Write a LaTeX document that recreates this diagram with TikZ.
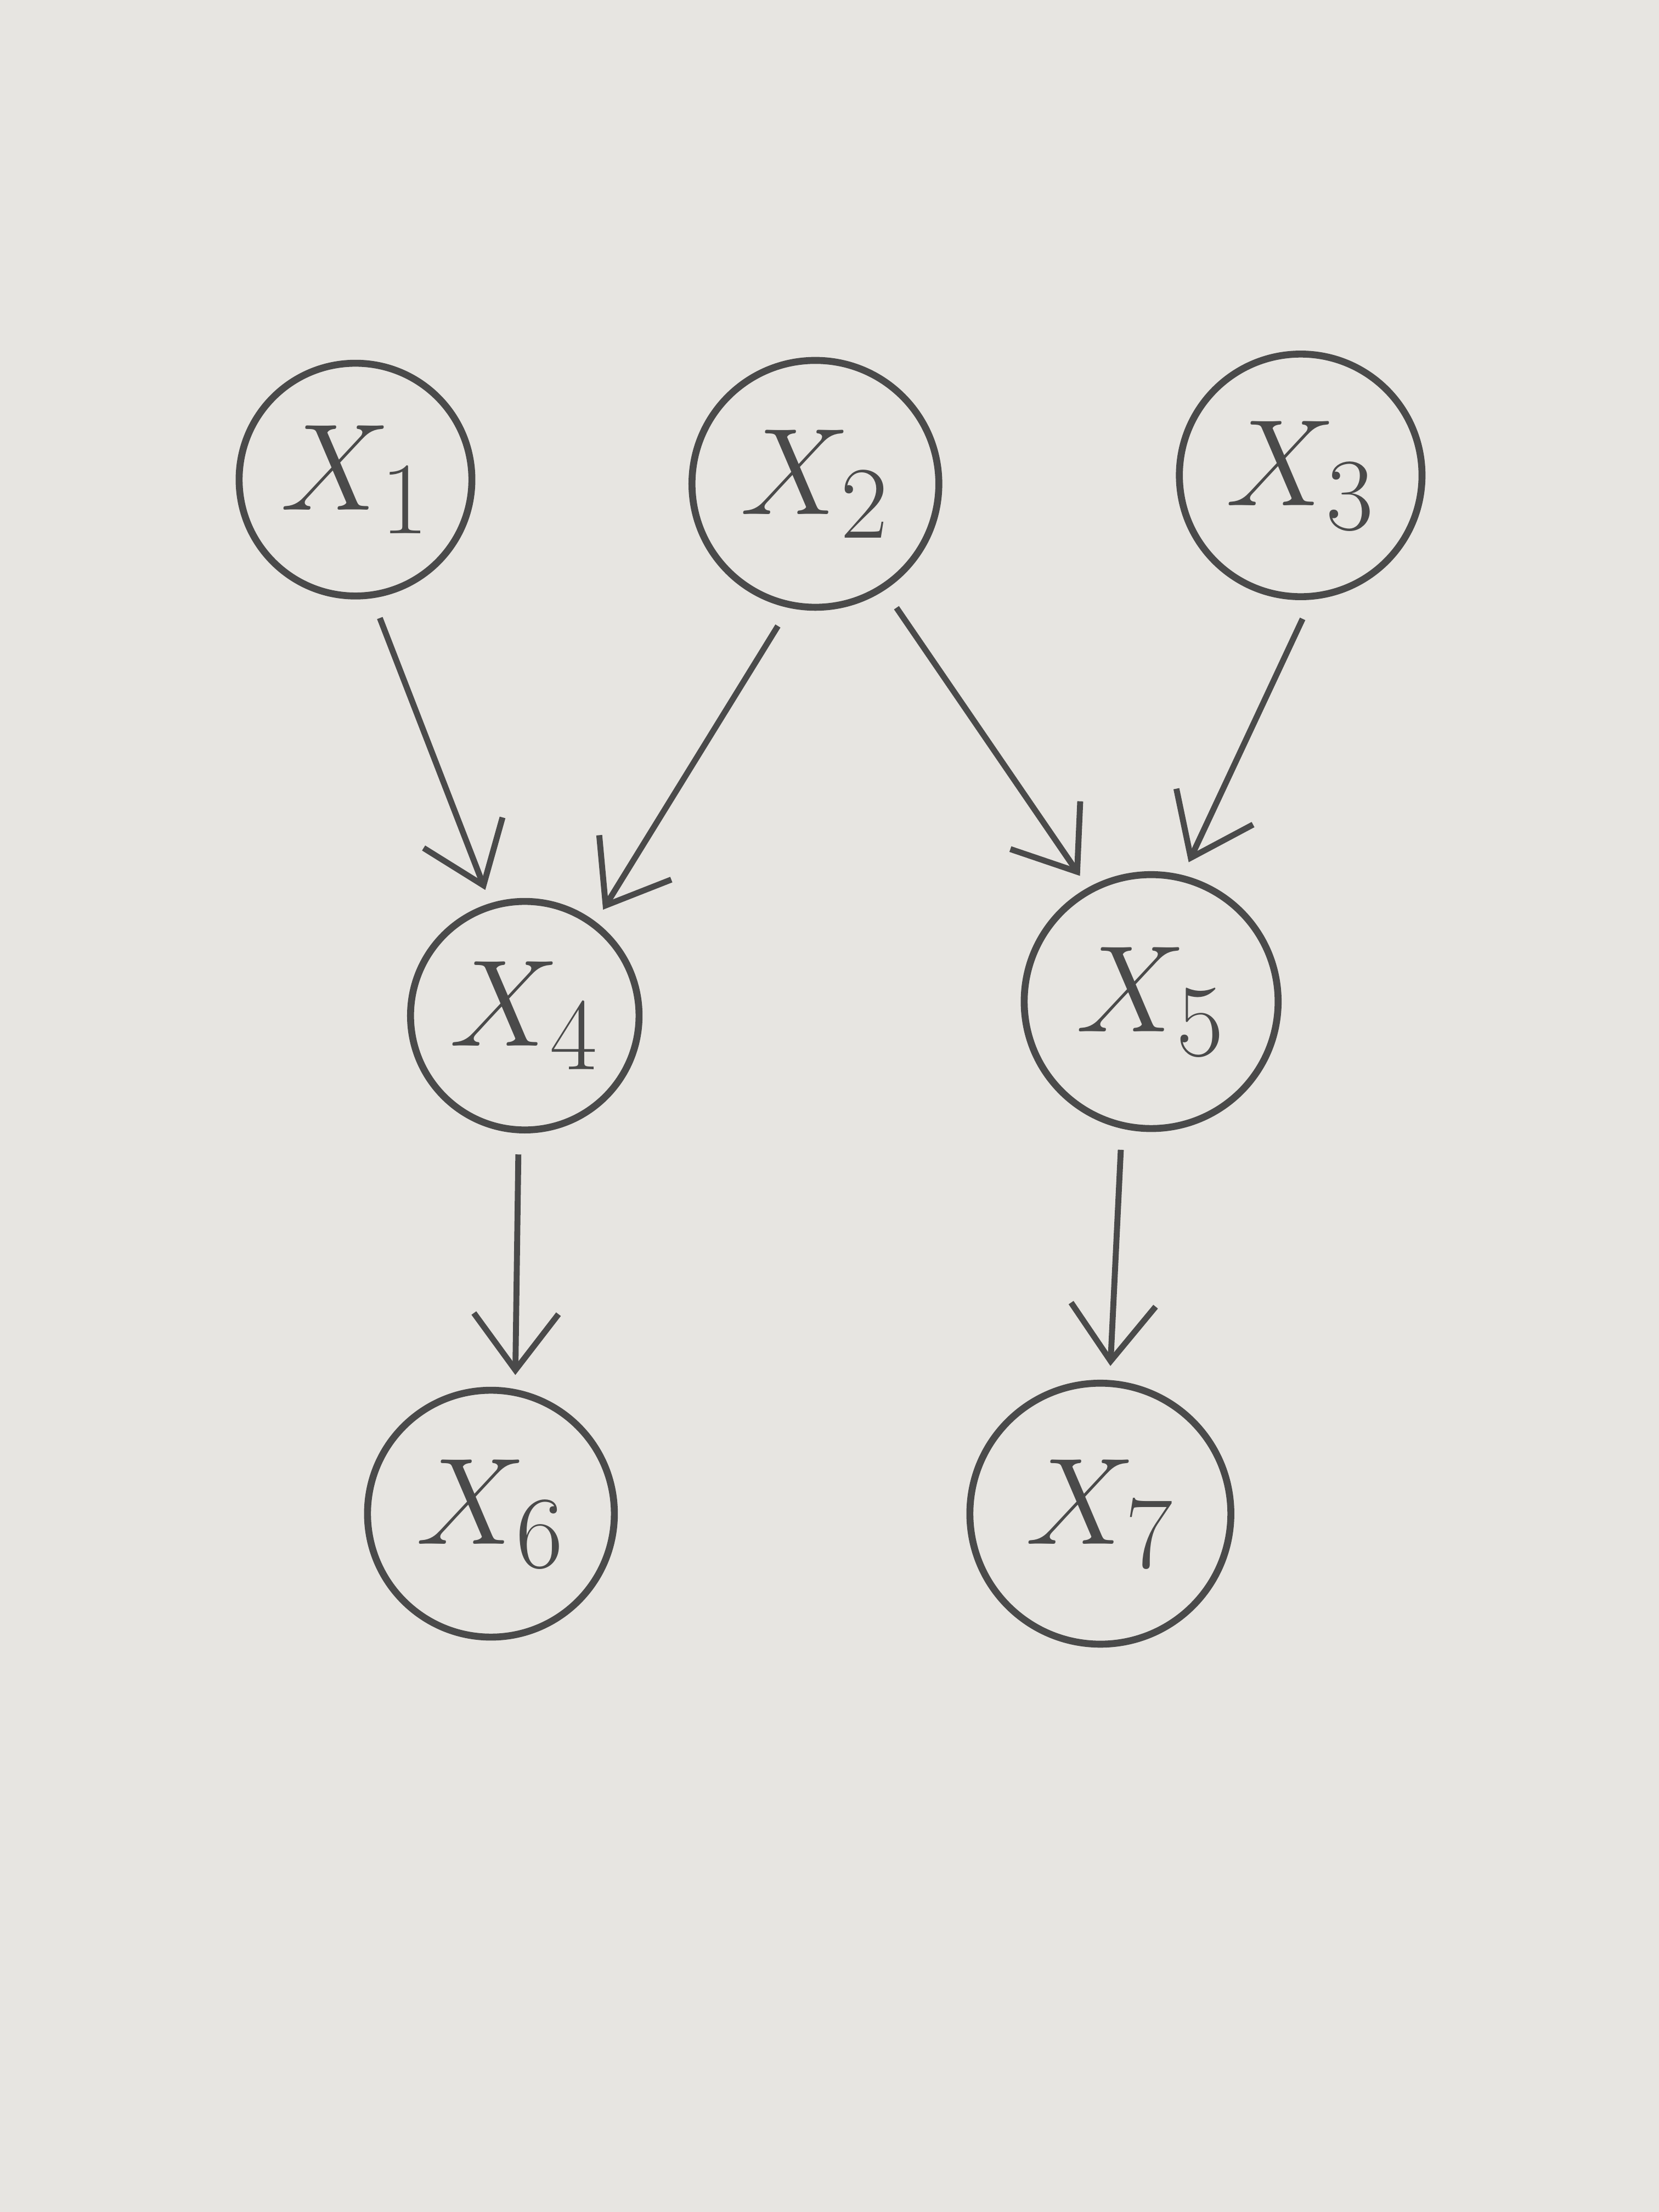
\documentclass[tikz,border=0pt]{standalone}
\usetikzlibrary{arrows.meta}
\definecolor{paper}{HTML}{E7E5E1}
\definecolor{pencil}{HTML}{4A4A4A}
\tikzset{
  var/.style={circle,draw=pencil,line width=1.4pt,minimum size=1.65cm,inner sep=0pt,
    text=pencil,font=\fontsize{30}{34}\selectfont},
  edge/.style={draw=pencil,line width=1.2pt,-{Straight Barb[length=4mm,width=6mm,line width=1.2pt]},
    shorten <=0.15cm,shorten >=0.1cm}
}
\begin{document}
\begin{tikzpicture}
      \fill[paper] (0,0) rectangle (11.76,15.68);
      \useasboundingbox (0,0) rectangle (11.76,15.68);
      \draw
        (2.52,12.28) node[var] (x1){$X_1$}
        (5.78,12.25) node[var,minimum size=1.75cm] (x2){$X_2$}
        (9.22,12.31) node[var,minimum size=1.72cm] (x3){$X_3$}
        (3.72,8.48) node[var,minimum size=1.62cm] (x4){$X_4$}
        (8.16,8.58) node[var,minimum size=1.8cm] (x5){$X_5$}
        (3.48,4.95) node[var,minimum size=1.75cm] (x6){$X_6$}
        (7.80,4.95) node[var,minimum size=1.85cm] (x7){$X_7$};
      \begin{scope}[edge]
        \draw (x1.-82) to (x4.107);
        \draw (x2.-102) to (x4.53);
        \draw (x2.-57) to (x5.119);
        \draw (x3.-85) to (x5.76);
        \draw (x4.-93) to (x6.79);
        \draw (x5.-103) to (x7.86);
      \end{scope}
    \end{tikzpicture}
\end{document}
